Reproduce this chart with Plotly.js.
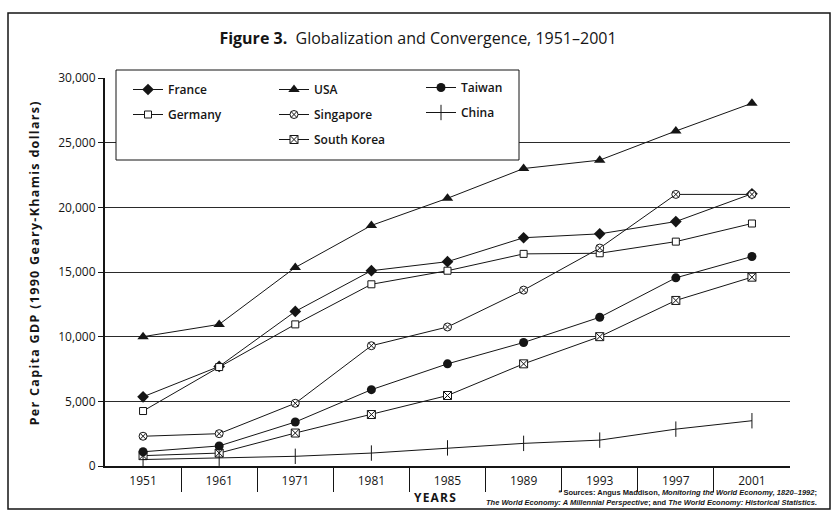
<!DOCTYPE html>
<html>
<head>
<meta charset="utf-8">
<script src="https://cdn.plot.ly/plotly-3.0.1.min.js"></script>
<style>
  html, body { margin: 0; padding: 0; background: #fff; }
  #chart { width: 836px; height: 512px; }
  #chart g.annotation[data-index="0"] text { letter-spacing: 1.3px; }
  #chart g.annotation[data-index="1"] text { letter-spacing: 1.2px; }
</style>
</head>
<body>
<div id="chart"></div>
<script>
// ---- data ----
const years = ['1951', '1961', '1971', '1981', '1985', '1989', '1993', '1997', '2001'];
const france     = [5350, 7700, 11950, 15100, 15800, 17650, 17950, 18900, 21050];
const germany    = [4250, 7650, 10950, 14050, 15100, 16400, 16450, 17350, 18750];
const usa        = [10000, 10950, 15350, 18600, 20700, 23000, 23650, 25900, 28050];
const singapore  = [2300, 2500, 4850, 9300, 10750, 13600, 16850, 21000, 21000];
const southKorea = [800, 1000, 2550, 3980, 5450, 7900, 10000, 12800, 14600];
const taiwan     = [1100, 1550, 3400, 5900, 7900, 9550, 11500, 14550, 16200];
const china      = [500, 600, 750, 1000, 1400, 1750, 2000, 2850, 3500];
const yTicks = [0, 5000, 10000, 15000, 20000, 25000, 30000];

const idx = years.map((_, i) => i);
const separators = idx.slice(1).map(i => i - 0.5);

const FONT = 'Open Sans, Noto Sans, sans-serif';
const INK = '#151515';

function trace(name, values, marker, legend, group) {
  return {
    type: 'scatter', mode: 'lines+markers', name: name,
    x: idx, y: values,
    line: { color: INK, width: 1 },
    marker: marker,
    legend: legend, legendgroup: group,
    hoverinfo: 'name+y'
  };
}

const data = [
  trace('France', france, { symbol: 'diamond', size: 9, color: INK }, 'legend', 'g1'),
  trace('Germany', germany, { symbol: 'square', size: 7, color: '#fff', line: { color: INK, width: 1 } }, 'legend', 'g2'),
  trace('USA', usa, { symbol: 'triangle-up', size: 10, color: INK }, 'legend2', 'g3'),
  trace('Singapore', singapore, { symbol: 'circle-x', size: 8, color: '#fff', line: { color: INK, width: 1 } }, 'legend2', 'g4'),
  trace('South Korea', southKorea, { symbol: 'square-x', size: 8, color: '#fff', line: { color: INK, width: 1 } }, 'legend2', 'g5'),
  trace('Taiwan', taiwan, { symbol: 'circle', size: 9, color: INK }, 'legend3', 'g6'),
  trace('China', china, { symbol: 'line-ns', size: 11, color: INK, line: { color: INK, width: 1 } }, 'legend3', 'g7')
];

function px2x(p) { return (p - 105) / 685; }
function px2y(p) { return (466 - p) / 388; }

const legendBase = {
  xanchor: 'left', yanchor: 'top', bgcolor: 'rgba(0,0,0,0)', borderwidth: 0,
  font: { family: FONT, size: 12, color: INK, weight: 600 },
  traceorder: 'grouped', tracegroupgap: 6
};

const layout = {
  width: 836, height: 512,
  margin: { l: 105, r: 46, t: 78, b: 46 },
  paper_bgcolor: '#fff', plot_bgcolor: '#fff',
  font: { family: FONT, color: INK },
  showlegend: true,
  title: {
    text: '<b>Figure 3.</b>  Globalization and Convergence, 1951–2001',
    font: { family: FONT, size: 16, color: INK },
    xref: 'container', x: 0.5, xanchor: 'center',
    yref: 'container', y: 1 - 38 / 512, yanchor: 'middle'
  },
  xaxis: {
    type: 'linear', range: [-0.5, 8.5], fixedrange: true,
    tickmode: 'array', tickvals: idx, ticktext: years,
    ticks: '', ticklabelstandoff: 3,
    tickfont: { family: FONT, size: 12, color: INK },
    showline: true, linecolor: INK, linewidth: 2,
    showgrid: false, zeroline: false,
    minor: { tickmode: 'array', tickvals: separators, ticks: 'outside', ticklen: 24, tickwidth: 1, tickcolor: INK, showgrid: false }
  },
  yaxis: {
    range: [0, 30000], fixedrange: true,
    tickmode: 'array', tickvals: yTicks, tickformat: ',',
    ticks: 'outside', ticklen: 5, tickwidth: 1, tickcolor: INK,
    tickfont: { family: FONT, size: 12, color: INK },
    showline: true, linecolor: INK, linewidth: 2,
    showgrid: true, gridcolor: '#2a2a2a', gridwidth: 1, zeroline: false
  },
  legend: Object.assign({}, legendBase, { x: px2x(128), y: px2y(75) }),
  legend2: Object.assign({}, legendBase, { x: px2x(274), y: px2y(75) }),
  legend3: Object.assign({}, legendBase, { x: px2x(421), y: px2y(73) }),
  shapes: [
    { type: 'rect', xref: 'paper', yref: 'paper', layer: 'above',
      x0: px2x(116), x1: px2x(519), y0: px2y(160), y1: px2y(70),
      fillcolor: '#fff', line: { color: INK, width: 1 } },
    { type: 'rect', xref: 'paper', yref: 'paper', layer: 'above',
      x0: px2x(8), x1: px2x(830), y0: px2y(509), y1: px2y(13),
      fillcolor: 'rgba(0,0,0,0)', line: { color: INK, width: 1.5 } }
  ],
  annotations: [
    { text: 'Per Capita GDP (1990 Geary-Khamis dollars)', textangle: -90,
      xref: 'paper', yref: 'paper', x: px2x(34), y: px2y(263),
      xanchor: 'center', yanchor: 'middle', showarrow: false,
      font: { family: FONT, size: 12.5, color: INK, weight: 700 } },
    { text: '<b>YEARS</b>', xref: 'paper', yref: 'paper', x: px2x(435), y: px2y(497),
      xanchor: 'center', yanchor: 'middle', showarrow: false,
      font: { family: FONT, size: 12, color: INK } },
    { text: '* Sources: Angus Maddison, <i>Monitoring the World Economy, 1820–1992</i>;<br><i>The World Economy: A Millennial Perspective</i>; and <i>The World Economy: Historical Statistics</i>.',
      xref: 'paper', yref: 'paper', x: px2x(819), y: px2y(497),
      xanchor: 'right', yanchor: 'middle', align: 'right', showarrow: false,
      font: { family: 'Liberation Sans Narrow, Liberation Sans, sans-serif', size: 7.5, color: INK, weight: 700 } }
  ]
};

Plotly.newPlot('chart', data, layout, { displayModeBar: false, staticPlot: true });
</script>
</body>
</html>
